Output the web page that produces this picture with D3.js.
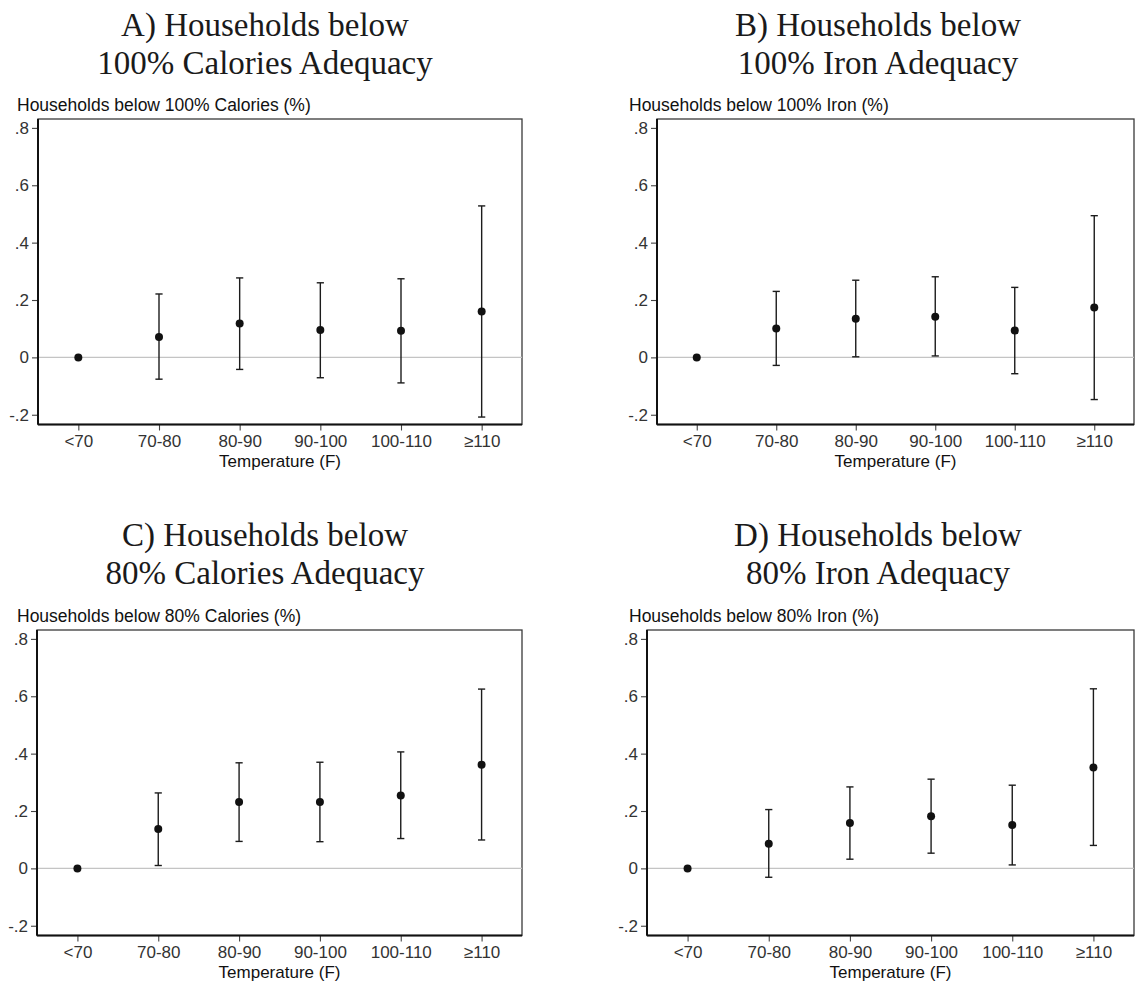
<!DOCTYPE html>
<html>
<head>
<meta charset="utf-8">
<script src="https://cdn.jsdelivr.net/npm/d3@7"></script>
<style>
  html, body { margin: 0; padding: 0; background: #ffffff; }
  svg { display: block; }
  .tick text { font-family: "Liberation Sans", Arial, Helvetica, sans-serif; }
</style>
</head>
<body>
<svg id="chart" width="1135" height="988"></svg>
<script>
// Temperature bins on the x axis
const categories = ["<70", "70-80", "80-90", "90-100", "100-110", "\u2265110"];

// A) below 100% calories: point estimates and 95% CI bounds (<70 is the reference bin)
const cal100Est = [0, 0.071, 0.118, 0.095, 0.093, 0.160];
const cal100Lo  = [null, -0.076, -0.042, -0.071, -0.089, -0.208];
const cal100Hi  = [null, 0.221, 0.277, 0.260, 0.274, 0.528];

// B) below 100% iron
const iron100Est = [0, 0.101, 0.135, 0.142, 0.094, 0.174];
const iron100Lo  = [null, -0.028, 0.002, 0.005, -0.057, -0.147];
const iron100Hi  = [null, 0.230, 0.269, 0.281, 0.244, 0.494];

// C) below 80% calories
const cal80Est = [0, 0.137, 0.231, 0.231, 0.254, 0.361];
const cal80Lo  = [null, 0.010, 0.094, 0.093, 0.104, 0.099];
const cal80Hi  = [null, 0.263, 0.368, 0.370, 0.406, 0.625];

// D) below 80% iron
const iron80Est = [0, 0.086, 0.158, 0.182, 0.151, 0.352];
const iron80Lo  = [null, -0.031, 0.032, 0.053, 0.012, 0.080];
const iron80Hi  = [null, 0.205, 0.284, 0.311, 0.290, 0.626];

// Axis ticks and labels
const yTicks = [-0.2, 0, 0.2, 0.4, 0.6, 0.8];
const yDomain = [-0.234, 0.831];
const panelTitles = [
  ["A) Households below", "100% Calories Adequacy"],
  ["B) Households below", "100% Iron Adequacy"],
  ["C) Households below", "80% Calories Adequacy"],
  ["D) Households below", "80% Iron Adequacy"]
];
const yTitles = [
  "Households below 100% Calories (%)",
  "Households below 100% Iron (%)",
  "Households below 80% Calories (%)",
  "Households below 80% Iron (%)"
];
const xTitle = "Temperature (F)";

// Panel geometry (plot-region box for each panel)
const layout = [
  { left: 38,  right: 522,  top: 119, bottom: 424.5, titleX: 265, titleY: 36,  yTitleX: 17 },
  { left: 657, right: 1134, top: 119, bottom: 424.5, titleX: 878, titleY: 36,  yTitleX: 629 },
  { left: 37,  right: 522,  top: 630, bottom: 935.5, titleX: 265, titleY: 546, yTitleX: 17 },
  { left: 647, right: 1134, top: 630, bottom: 935.5, titleX: 878, titleY: 546, yTitleX: 629 }
];

const series = [
  { est: cal100Est,  lo: cal100Lo,  hi: cal100Hi },
  { est: iron100Est, lo: iron100Lo, hi: iron100Hi },
  { est: cal80Est,   lo: cal80Lo,   hi: cal80Hi },
  { est: iron80Est,  lo: iron80Lo,  hi: iron80Hi }
];

const sans = '"Liberation Sans", Arial, Helvetica, sans-serif';
const serif = '"Liberation Serif", "Times New Roman", serif';
const fmtY = d => d === 0 ? "0" : (d < 0 ? "-" : "") + "." + Math.round(Math.abs(d) * 10);

const svg = d3.select("#chart");
svg.append("rect").attr("width", 1135).attr("height", 988).attr("fill", "#ffffff");

series.forEach((s, p) => {
  const L = layout[p];
  const g = svg.append("g");

  const x = d3.scalePoint().domain(categories).range([L.left, L.right]).padding(0.5);
  const y = d3.scaleLinear().domain(yDomain).range([L.bottom, L.top]);

  // Panel title (two lines, serif)
  const t = g.append("text")
    .attr("x", L.titleX).attr("y", L.titleY)
    .attr("text-anchor", "middle")
    .attr("font-family", serif).attr("font-size", 33).attr("fill", "#1a1a1a");
  panelTitles[p].forEach((line, i) => {
    t.append("tspan").attr("x", L.titleX).attr("dy", i === 0 ? 0 : 38).text(line);
  });

  // Y-axis title sits above the plot region
  g.append("text")
    .attr("x", L.yTitleX).attr("y", L.top - 8.5)
    .attr("font-family", sans).attr("font-size", 17.5).attr("fill", "#111")
    .text(yTitles[p]);

  // Plot region frame
  g.append("rect")
    .attr("x", L.left).attr("y", L.top)
    .attr("width", L.right - L.left).attr("height", L.bottom - L.top)
    .attr("fill", "none").attr("stroke", "#3a3a3a").attr("stroke-width", 1.3);

  // Reference line at zero
  g.append("line")
    .attr("x1", L.left).attr("x2", L.right)
    .attr("y1", y(0)).attr("y2", y(0))
    .attr("stroke", "#c4c4c4").attr("stroke-width", 1.4);

  // Y axis
  const yAxis = g.append("g")
    .attr("transform", `translate(${L.left},0)`)
    .call(d3.axisLeft(y).tickValues(yTicks).tickFormat(fmtY).tickSize(6).tickPadding(3));
  yAxis.select(".domain").remove();
  yAxis.selectAll(".tick line").attr("stroke", "#444").attr("stroke-width", 1.1);
  yAxis.selectAll(".tick text").attr("font-size", 17).attr("fill", "#333");
  g.append("line")
    .attr("x1", L.left).attr("x2", L.left).attr("y1", L.top).attr("y2", L.bottom)
    .attr("stroke", "#111").attr("stroke-width", 2);

  // X axis
  const xAxis = g.append("g")
    .attr("transform", `translate(0,${L.bottom})`)
    .call(d3.axisBottom(x).tickSize(6).tickPadding(4));
  xAxis.select(".domain").remove();
  xAxis.selectAll(".tick line").attr("stroke", "#444").attr("stroke-width", 1.1);
  xAxis.selectAll(".tick text").attr("font-size", 17).attr("fill", "#333");
  g.append("line")
    .attr("x1", L.left).attr("x2", L.right).attr("y1", L.bottom).attr("y2", L.bottom)
    .attr("stroke", "#111").attr("stroke-width", 2);

  g.append("text")
    .attr("x", (L.left + L.right) / 2).attr("y", L.bottom + 42.5)
    .attr("text-anchor", "middle")
    .attr("font-family", sans).attr("font-size", 17).attr("fill", "#111")
    .text(xTitle);

  // Confidence intervals with caps
  const rows = categories.map((c, i) => ({ c, est: s.est[i], lo: s.lo[i], hi: s.hi[i] }));
  const withCI = rows.filter(r => r.lo !== null && r.hi !== null);
  const capHalf = 3.6;
  const ci = g.append("g").attr("stroke", "#1c1c1c").attr("stroke-width", 1.4);
  ci.selectAll(".stem").data(withCI).join("line")
    .attr("x1", r => x(r.c)).attr("x2", r => x(r.c))
    .attr("y1", r => y(r.lo)).attr("y2", r => y(r.hi));
  ci.selectAll(".capHi").data(withCI).join("line")
    .attr("x1", r => x(r.c) - capHalf).attr("x2", r => x(r.c) + capHalf)
    .attr("y1", r => y(r.hi)).attr("y2", r => y(r.hi));
  ci.selectAll(".capLo").data(withCI).join("line")
    .attr("x1", r => x(r.c) - capHalf).attr("x2", r => x(r.c) + capHalf)
    .attr("y1", r => y(r.lo)).attr("y2", r => y(r.lo));

  // Point estimates
  g.append("g").selectAll("circle").data(rows).join("circle")
    .attr("cx", r => x(r.c)).attr("cy", r => y(r.est))
    .attr("r", 4).attr("fill", "#111");
});
</script>
</body>
</html>
